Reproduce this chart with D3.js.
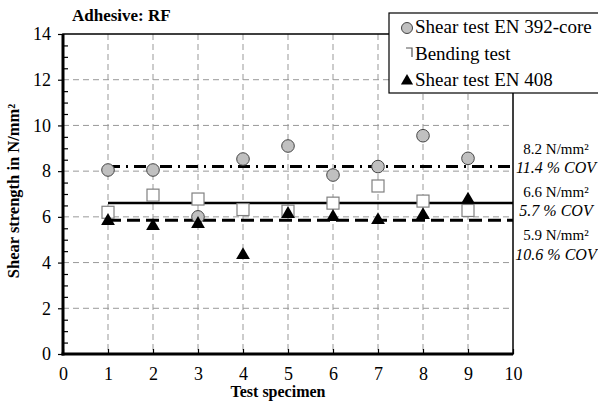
<!DOCTYPE html>
<html>
<head>
<meta charset="utf-8">
<script src="https://cdn.jsdelivr.net/npm/d3@7"></script>
<style>
  body { margin: 0; background: #fff; }
  svg, svg text { font-family: "Liberation Serif", "Times New Roman", serif; }
</style>
</head>
<body>
<div id="chart"></div>
<script>
// Test specimens 1..9
const specimens = [1, 2, 3, 4, 5, 6, 7, 8, 9];

// Shear strength in N/mm²
const coreValues = [8.05, 8.05, 6.0, 8.53, 9.1, 7.83, 8.2, 9.55, 8.56];   // Shear test EN 392-core
const bendingValues = [6.2, 6.95, 6.78, 6.32, 6.25, 6.6, 7.35, 6.69, 6.28]; // Bending test
const en408Values = [5.86, 5.64, 5.73, 4.37, 6.17, 6.04, 5.9, 6.12, 6.8];   // Shear test EN 408

const seriesNames = ['Shear test EN 392-core', 'Bending test', 'Shear test EN 408'];
const meanLabels = ['8.2 N/mm²', '6.6 N/mm²', '5.9 N/mm²'];
const covLabels = ['11.4 % COV', '5.7 % COV', '10.6 % COV'];

const xTicks = [0, 1, 2, 3, 4, 5, 6, 7, 8, 9, 10];
const yTicks = [0, 2, 4, 6, 8, 10, 12, 14];

const width = 598, height = 403;
const margin = { top: 34, right: 85, bottom: 49, left: 63 };
const innerW = width - margin.left - margin.right;
const innerH = height - margin.top - margin.bottom;
const serif = '"Liberation Serif", "Times New Roman", serif';

const svg = d3.select('#chart')
    .append('svg')
    .attr('width', width)
    .attr('height', height);

const g = svg.append('g')
    .attr('transform', `translate(${margin.left},${margin.top})`);

const x = d3.scaleLinear().domain([0, 10]).range([0, innerW]);
const y = d3.scaleLinear().domain([0, 14]).range([innerH, 0]);

// Grid lines
g.append('g')
  .selectAll('line')
  .data(xTicks.slice(1, -1))
  .join('line')
    .attr('x1', d => x(d)).attr('x2', d => x(d))
    .attr('y1', 0).attr('y2', innerH)
    .attr('stroke', '#999').attr('stroke-dasharray', '6,4');

g.append('g')
  .selectAll('line')
  .data(yTicks.slice(1, -1))
  .join('line')
    .attr('x1', 0).attr('x2', innerW)
    .attr('y1', d => y(d)).attr('y2', d => y(d))
    .attr('stroke', '#999').attr('stroke-dasharray', '6,4');

// Frame (top and right thin)
g.append('rect')
    .attr('width', innerW).attr('height', innerH)
    .attr('fill', 'none').attr('stroke', '#000').attr('stroke-width', 1.5);

// Axes
const yAxis = d3.axisLeft(y).tickValues(yTicks).tickSize(5).tickPadding(7);
const yMinor = d3.axisLeft(y)
    .tickValues(d3.range(1, 14, 2).concat(d3.range(0.5, 14, 1)))
    .tickSize(-5).tickFormat('');
const xAxis = d3.axisBottom(x).tickValues(xTicks).tickSize(-5).tickPadding(13);

const yAxisG = g.append('g').call(yAxis);
g.append('g').call(yMinor);
const xAxisG = g.append('g').attr('transform', `translate(0,${innerH})`).call(xAxis);

g.selectAll('.domain').remove();
g.selectAll('.tick line').attr('stroke', '#000').attr('stroke-width', 1.2);
[yAxisG, xAxisG].forEach(ax => {
  ax.attr('font-family', null).style('font-family', serif);
  ax.selectAll('text')
      .style('font-family', serif)
      .style('font-size', '18px')
      .attr('fill', '#000');
});

// thick left and bottom axis lines
g.append('line').attr('x1', 0).attr('x2', 0).attr('y1', 0).attr('y2', innerH + 1.5)
    .attr('stroke', '#000').attr('stroke-width', 3);
g.append('line').attr('x1', -1.5).attr('x2', innerW).attr('y1', innerH).attr('y2', innerH)
    .attr('stroke', '#000').attr('stroke-width', 3);

// Mean lines from specimen 1 to the right border
const means = [d3.mean(coreValues), d3.mean(bendingValues), d3.mean(en408Values)];
const meanDash = ['12,6,2,6', null, '13,6'];
const meanWidth = [3, 2.5, 3];

g.append('g')
  .selectAll('line')
  .data(means)
  .join('line')
    .attr('x1', x(1)).attr('x2', x(10))
    .attr('y1', d => y(d)).attr('y2', d => y(d))
    .attr('stroke', '#000')
    .attr('stroke-width', (d, i) => meanWidth[i])
    .attr('stroke-dasharray', (d, i) => meanDash[i]);

// Bending test markers (open squares)
g.append('g')
  .selectAll('rect')
  .data(specimens)
  .join('rect')
    .attr('x', d => x(d) - 6)
    .attr('y', (d, i) => y(bendingValues[i]) - 6)
    .attr('width', 12).attr('height', 12)
    .attr('fill', '#fff').attr('stroke', '#808080').attr('stroke-width', 1.2);

// EN 392-core markers (grey circles)
g.append('g')
  .selectAll('circle')
  .data(specimens)
  .join('circle')
    .attr('cx', d => x(d))
    .attr('cy', (d, i) => y(coreValues[i]))
    .attr('r', 6.3)
    .attr('fill', '#c0c0c0').attr('stroke', '#444').attr('stroke-width', 1);

// EN 408 markers (black triangles)
const tri = d3.symbol().type(d3.symbolTriangle).size(82);
g.append('g')
  .selectAll('path')
  .data(specimens)
  .join('path')
    .attr('transform', (d, i) => `translate(${x(d)},${y(en408Values[i]) + 1})`)
    .attr('d', tri)
    .attr('fill', '#000');

// Mean / COV annotations on the right
const ann = svg.append('g').attr('text-anchor', 'middle').attr('fill', '#000');
const annX = 556;
const meanBase = [154, 197, 240];
const covBase = [173, 216, 260];
ann.selectAll('text.mean')
  .data(meanLabels)
  .join('text')
    .attr('class', 'mean')
    .attr('x', annX).attr('y', (d, i) => meanBase[i])
    .style('font-size', '15px')
    .text(d => d);
ann.selectAll('text.cov')
  .data(covLabels)
  .join('text')
    .attr('class', 'cov')
    .attr('x', annX).attr('y', (d, i) => covBase[i])
    .style('font-size', '16px').style('font-style', 'italic')
    .text(d => d);

// Legend
const legend = svg.append('g').attr('transform', 'translate(389,13)');
legend.append('rect')
    .attr('width', 215).attr('height', 80)
    .attr('fill', '#fff').attr('stroke', '#000').attr('stroke-width', 1.2);

const legRows = [20, 47, 73];
legend.selectAll('text')
  .data(seriesNames)
  .join('text')
    .attr('x', 26).attr('y', (d, i) => legRows[i])
    .style('font-size', '19px')
    .text(d => d);

legend.append('circle')
    .attr('cx', 18).attr('cy', legRows[0] - 5).attr('r', 5.5)
    .attr('fill', '#c0c0c0').attr('stroke', '#444');
legend.append('path')
    .attr('d', `M17,${legRows[1] - 12}H23V${legRows[1] - 3}`)
    .attr('fill', 'none').attr('stroke', '#555').attr('stroke-width', 1.2);
legend.append('path')
    .attr('transform', `translate(18,${legRows[2] - 5})`)
    .attr('d', d3.symbol().type(d3.symbolTriangle).size(64))
    .attr('fill', '#000');

// Title and axis labels
svg.append('text')
    .attr('x', 72).attr('y', 21)
    .style('font-size', '17px').style('font-weight', 'bold')
    .text('Adhesive: RF');

svg.append('text')
    .attr('transform', 'translate(19,191) rotate(-90)')
    .attr('text-anchor', 'middle')
    .style('font-size', '16.5px').style('font-weight', 'bold')
    .text('Shear strength in N/mm²');

svg.append('text')
    .attr('x', 278).attr('y', 397)
    .attr('text-anchor', 'middle')
    .style('font-size', '16px').style('font-weight', 'bold')
    .text('Test specimen');
</script>
</body>
</html>
